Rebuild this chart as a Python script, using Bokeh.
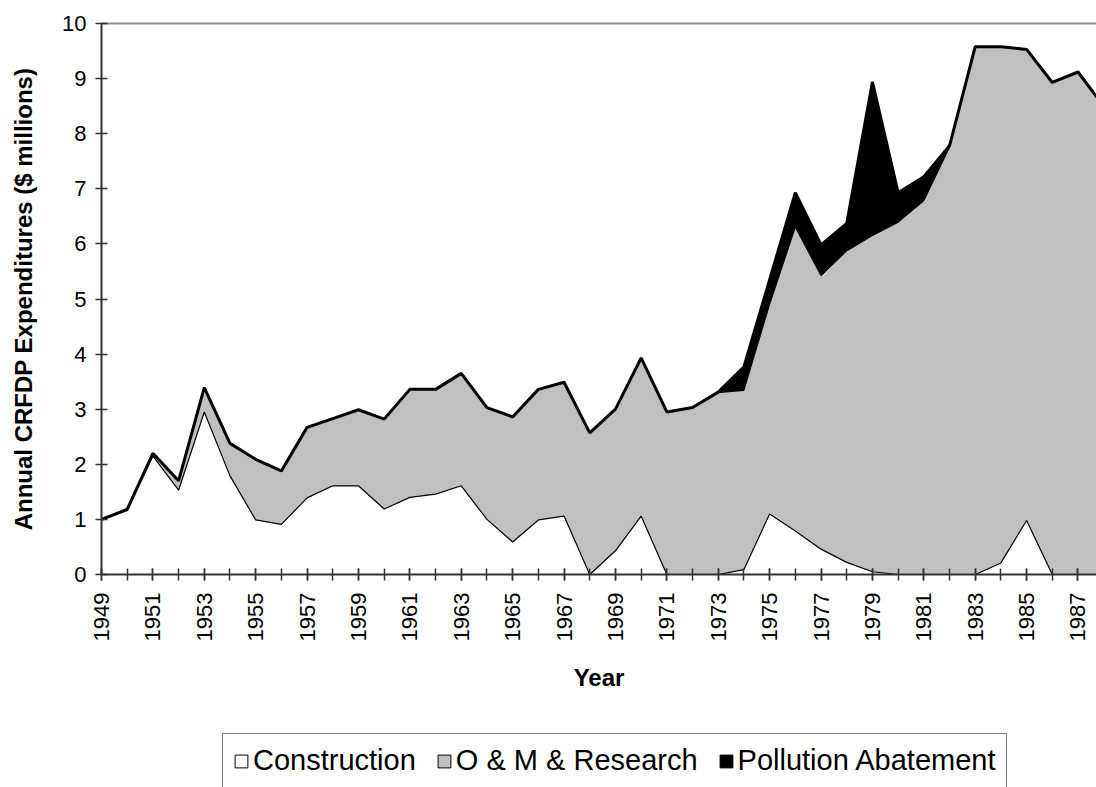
import numpy as np
from bokeh.plotting import figure
from bokeh.layouts import column
from bokeh.models import (ColumnDataSource, Range1d, FixedTicker, LinearAxis,
                          Legend, LegendItem)
from bokeh.embed import file_html
from bokeh.resources import INLINE

# Annual CRFDP expenditures, $ millions
years = list(range(1949, 1989))
construction = [1.00, 1.18, 2.15, 1.53, 2.95, 1.79, 0.99, 0.91, 1.39, 1.61,
                1.61, 1.19, 1.40, 1.46, 1.61, 1.00, 0.59, 0.99, 1.06, 0.00,
                0.43, 1.06, 0.00, 0.00, 0.00, 0.09, 1.10, 0.79, 0.46, 0.22,
                0.05, 0.00, 0.00, 0.00, 0.00, 0.21, 0.98, 0.00, 0.00, 0.00]
om_research = [0.00, 0.00, 0.05, 0.17, 0.44, 0.59, 1.10, 0.97, 1.28, 1.22,
               1.38, 1.63, 1.96, 1.90, 2.04, 2.03, 2.27, 2.37, 2.43, 2.57,
               2.57, 2.87, 2.95, 3.03, 3.30, 3.25, 3.80, 5.51, 4.96, 5.65,
               6.10, 6.39, 6.78, 7.75, 9.58, 9.37, 8.55, 8.93, 9.12, 8.50]
pollution = [0.00, 0.00, 0.00, 0.00, 0.00, 0.00, 0.00, 0.00, 0.00, 0.00,
             0.00, 0.00, 0.00, 0.00, 0.00, 0.00, 0.00, 0.00, 0.00, 0.00,
             0.00, 0.00, 0.00, 0.00, 0.01, 0.43, 0.45, 0.63, 0.56, 0.50,
             2.79, 0.54, 0.44, 0.03, 0.00, 0.00, 0.00, 0.00, 0.00, 0.00]
series_names = ["Construction", "O & M & Research", "Pollution Abatement"]
y_ticks = list(range(0, 11))
year_labels = list(range(1949, 1988, 2))

FONT = "Liberation Sans"
GRAY = "#C0C0C0"

# stacked boundaries
top_c = np.array(construction)
top_om = top_c + np.array(om_research)
top_all = top_om + np.array(pollution)

src = ColumnDataSource(dict(year=years, zero=np.zeros(len(years)),
                            c=top_c, om=top_om, total=top_all))

p = figure(width=1096, height=733, output_backend="svg", toolbar_location=None,
           x_range=Range1d(1949, 1987.72), y_range=Range1d(0, 10),
           min_border_left=101, min_border_right=0, min_border_top=23,
           min_border_bottom=159, outline_line_color=None,
           background_fill_color="white", border_fill_color="white")
p.xgrid.visible = False
p.ygrid.visible = False

# stacked areas
p.varea(x="year", y1="zero", y2="c", source=src, fill_color="white")
p.varea(x="year", y1="c", y2="om", source=src, fill_color=GRAY)
p.varea(x="year", y1="om", y2="total", source=src, fill_color="black")

# series borders
p.line("year", "c", source=src, line_color="black", line_width=1.2)
p.line("year", "om", source=src, line_color="black", line_width=1)
p.line("year", "total", source=src, line_color="black", line_width=3)

# x axis: a tick every year, a label every other year
xa = p.xaxis[0]
xa.ticker = FixedTicker(ticks=year_labels, minor_ticks=years)
xa.major_label_orientation = np.pi / 2
xa.major_label_standoff = 12
xa.major_label_text_font = FONT
xa.major_label_text_font_size = "22px"
xa.major_label_text_color = "black"
xa.major_tick_in = 6
xa.major_tick_out = 6
xa.minor_tick_in = 6
xa.minor_tick_out = 6
xa.axis_line_color = "#333333"
xa.axis_line_width = 2
xa.major_tick_line_color = "#333333"
xa.minor_tick_line_color = "#333333"
xa.major_tick_line_width = 1.5
xa.minor_tick_line_width = 1.5
xa.axis_label = "Year"
xa.axis_label_text_font = FONT
xa.axis_label_text_font_size = "24px"
xa.axis_label_text_font_style = "bold"
xa.axis_label_text_color = "black"
xa.axis_label_standoff = 20

ya = p.yaxis[0]
ya.ticker = FixedTicker(ticks=y_ticks)
ya.major_label_standoff = 9
ya.major_label_text_font = FONT
ya.major_label_text_font_size = "22px"
ya.major_label_text_color = "black"
ya.major_tick_in = 6
ya.major_tick_out = 6
ya.minor_tick_line_color = None
ya.axis_line_color = "#333333"
ya.axis_line_width = 2
ya.major_tick_line_color = "#333333"
ya.major_tick_line_width = 1.5
ya.axis_label = "Annual CRFDP Expenditures ($ millions)"
ya.axis_label_text_font = FONT
ya.axis_label_text_font_size = "24px"
ya.axis_label_text_font_style = "bold"
ya.axis_label_text_color = "black"
ya.axis_label_standoff = 22

# plot-area top border
top_border = LinearAxis(ticker=FixedTicker(ticks=[]), axis_line_color="#8c8c8c",
                        axis_line_width=2, major_tick_line_color=None,
                        minor_tick_line_color=None, major_label_text_font_size="0px")
p.add_layout(top_border, "above")

# legend strip underneath the chart (its frame lines up with the chart's)
lg = figure(width=1096, height=54, output_backend="svg", toolbar_location=None,
            x_range=Range1d(0, 1), y_range=Range1d(0, 1),
            x_axis_type=None, y_axis_type=None, min_border=0,
            outline_line_color=None, background_fill_color="white",
            border_fill_color="white")
lg.xgrid.visible = False
lg.ygrid.visible = False

nan = np.array([np.nan])
swatch = ColumnDataSource(dict(l=nan, r=nan, b=nan, t=nan))
swatch_fills = ["white", GRAY, "black"]
items = []
for name, fill in zip(series_names, swatch_fills):
    r = lg.quad(left="l", right="r", bottom="b", top="t", source=swatch,
                fill_color=fill, line_color="black", line_width=1)
    items.append(LegendItem(label=name, renderers=[r]))

legend = Legend(items=items, orientation="horizontal", location=(121, -1),
                label_text_font=FONT, label_text_font_size="29px",
                label_text_color="black", glyph_width=16, glyph_height=16,
                label_standoff=4, spacing=20, padding=10, margin=0,
                border_line_color="black", border_line_width=1,
                background_fill_color="white", background_fill_alpha=1.0)
lg.add_layout(legend)

page = column(p, lg, spacing=0)
open("out.html", "w").write(file_html(page, INLINE))
